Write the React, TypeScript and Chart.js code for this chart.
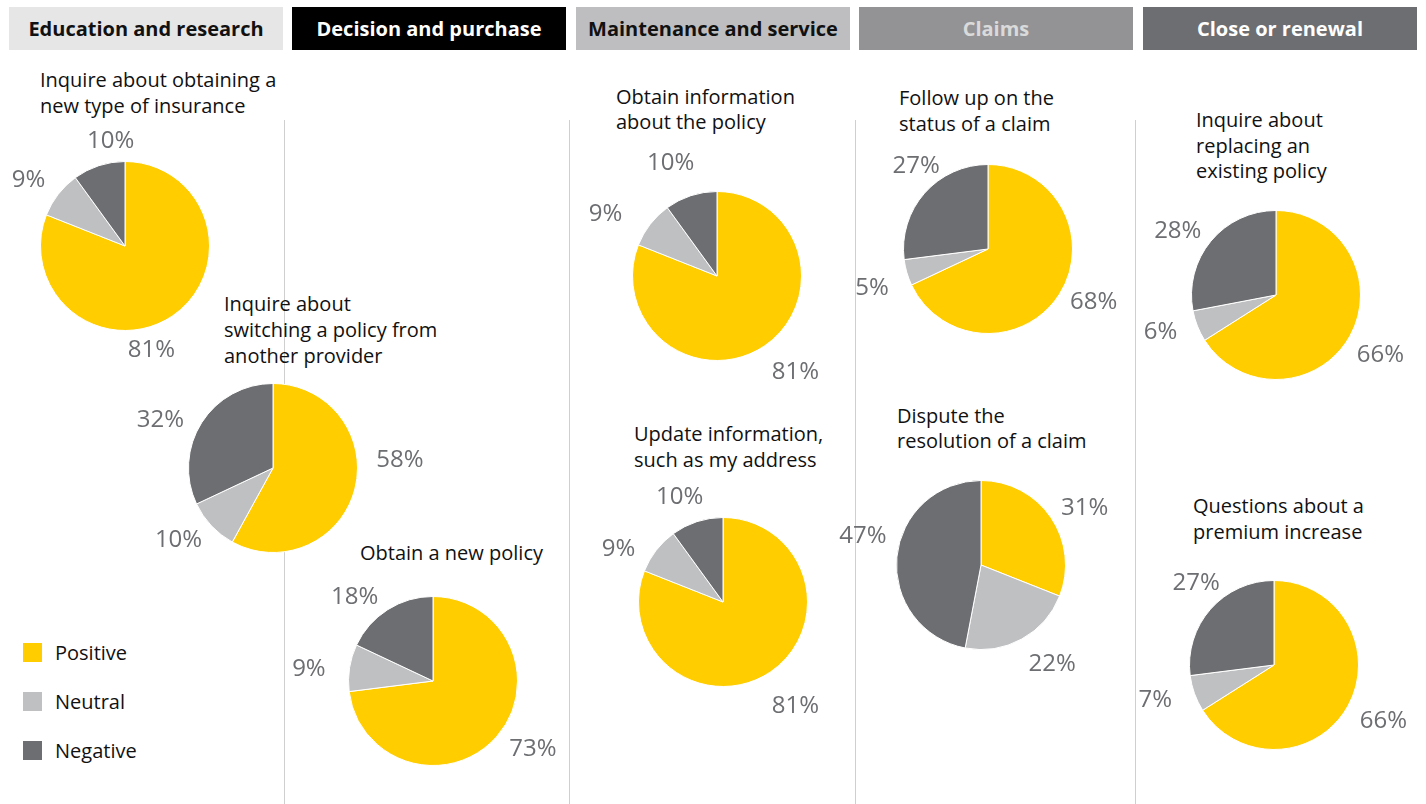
import React, { useEffect, useRef } from "react";
import { Chart, registerables } from "chart.js";

Chart.register(...registerables);

// ---- data ----
const sentiments = ["Positive", "Neutral", "Negative"];
const sentimentColors = ["#FFCD00", "#BFC0C2", "#6D6E71"];

const stages = [
  "Education and research",
  "Decision and purchase",
  "Maintenance and service",
  "Claims",
  "Close or renewal",
];

const interactions = [
  ["Inquire about obtaining a", "new type of insurance"],
  ["Inquire about", "switching a policy from", "another provider"],
  ["Obtain a new policy"],
  ["Obtain information", "about the policy"],
  ["Update information,", "such as my address"],
  ["Follow up on the", "status of a claim"],
  ["Dispute the", "resolution of a claim"],
  ["Inquire about", "replacing an", "existing policy"],
  ["Questions about a", "premium increase"],
];

const positive = [81, 58, 73, 81, 81, 68, 31, 66, 66];
const neutral = [9, 10, 9, 9, 9, 5, 22, 6, 7];
const negative = [10, 32, 18, 10, 10, 27, 47, 28, 27];

// ---- layout (positions / styles) ----
const stageStyles = [
  { bg: "#E6E6E7", fg: "#111111" },
  { bg: "#000000", fg: "#FFFFFF" },
  { bg: "#BEBEC0", fg: "#111111" },
  { bg: "#939396", fg: "#DADADA" },
  { bg: "#6D6E71", fg: "#FFFFFF" },
];
const stageLeft = [9, 292, 576, 859, 1143];
const separators = [284, 569, 855, 1135];

const RADIUS = 85;
const HALF = 160;
const pieLayout = [
  { cx: 125, cy: 246, tx: 40, ty: 67, lh: 26 },
  { cx: 273, cy: 468, tx: 224, ty: 291, lh: 26 },
  { cx: 433, cy: 681, tx: 360, ty: 540, lh: 26 },
  { cx: 717, cy: 276, tx: 616, ty: 84, lh: 25 },
  { cx: 723, cy: 602, tx: 634, ty: 421, lh: 26 },
  { cx: 988, cy: 249, tx: 899, ty: 85, lh: 26 },
  { cx: 981, cy: 565, tx: 897, ty: 403, lh: 25 },
  { cx: 1276, cy: 295, tx: 1196, ty: 107, lh: 25.5 },
  { cx: 1274, cy: 665, tx: 1193, ty: 493, lh: 26 },
];
const labelNudges = [
  [[-38, 9], [-6, 4], [21, 4]],
  [[16, -36], [-11, -6], [-16, 14]],
  [[14, -8], [-11, 6], [-17, 13]],
  [[14, 1], [-21, 8], [-11, -4]],
  [[8, 9], [-14, 17], [-8, 4]],
  [[9, -8], [-6, 7], [14, -7]],
  [[9, 8], [16, -1], [-4, -18]],
  [[4, 5], [-9, -5], [-10, 9]],
  [[9, 1], [-11, -4], [8, -6]],
];

const FONT = "'Open Sans', 'DejaVu Sans', sans-serif";

const pctLabels = {
  id: "pctLabels",
  afterDatasetsDraw(chart: any, _args: any, opts: any) {
    const ctx = chart.ctx;
    const meta = chart.getDatasetMeta(0);
    const data = chart.data.datasets[0].data;
    ctx.save();
    ctx.font = "24px " + FONT;
    ctx.fillStyle = "#6D6E71";
    ctx.textAlign = "center";
    ctx.textBaseline = "middle";
    meta.data.forEach((arc: any, i: number) => {
      const p = arc.getProps(["x", "y", "startAngle", "endAngle", "outerRadius"], true);
      const mid = (p.startAngle + p.endAngle) / 2;
      const d = p.outerRadius + 30;
      const n = (opts && opts.nudges && opts.nudges[i]) || [0, 0];
      ctx.fillText(
        data[i] + "%",
        p.x + Math.cos(mid) * d + n[0],
        p.y + Math.sin(mid) * d + n[1]
      );
    });
    ctx.restore();
  },
};

function Pie({ index }: { index: number }) {
  const ref = useRef<HTMLCanvasElement | null>(null);
  useEffect(() => {
    if (!ref.current) return;
    const chart = new Chart(ref.current, {
      type: "pie",
      data: {
        labels: sentiments,
        datasets: [
          {
            data: [positive[index], neutral[index], negative[index]],
            backgroundColor: sentimentColors,
            borderColor: "#FFFFFF",
            borderWidth: 1,
            hoverOffset: 0,
            offset: 0,
          },
        ],
      },
      options: {
        animation: false,
        responsive: false,
        events: [],
        layout: { padding: HALF - RADIUS },
        plugins: {
          legend: { display: false },
          tooltip: { enabled: false },
          // @ts-ignore
          pctLabels: { nudges: labelNudges[index] },
        },
      },
      plugins: [pctLabels as any],
    });
    return () => chart.destroy();
  }, [index]);
  const l = pieLayout[index];
  return (
    <canvas
      ref={ref}
      width={HALF * 2}
      height={HALF * 2}
      style={{
        position: "absolute",
        left: l.cx - HALF,
        top: l.cy - HALF,
        width: HALF * 2,
        height: HALF * 2,
      }}
    />
  );
}

export default function App() {
  return (
    <div
      style={{
        position: "fixed",
        left: 0,
        top: 0,
        width: 1426,
        height: 804,
        background: "#FFFFFF",
        overflow: "hidden",
        fontFamily: FONT,
      }}
    >
      {stages.map((s, i) => (
        <div
          key={s}
          style={{
            position: "absolute",
            left: stageLeft[i],
            top: 7,
            width: 274,
            height: 43,
            background: stageStyles[i].bg,
            color: stageStyles[i].fg,
            fontWeight: 700,
            fontSize: 20,
            display: "flex",
            alignItems: "center",
            justifyContent: "center",
          }}
        >
          {s}
        </div>
      ))}
      {separators.map((x) => (
        <div
          key={x}
          style={{
            position: "absolute",
            left: x,
            top: 120,
            width: 1,
            height: 684,
            background: "#CFCFCF",
          }}
        />
      ))}
      {interactions.map((lines, i) => (
        <div
          key={"t" + i}
          style={{
            position: "absolute",
            left: pieLayout[i].tx,
            top: pieLayout[i].ty,
            fontSize: 20,
            lineHeight: pieLayout[i].lh + "px",
            color: "#111111",
            whiteSpace: "nowrap",
          }}
        >
          {lines.map((t, j) => (
            <div key={j}>{t}</div>
          ))}
        </div>
      ))}
      {sentiments.map((s, i) => (
        <div
          key={s}
          style={{
            position: "absolute",
            left: 23,
            top: 642 + i * 49,
            height: 20,
            display: "flex",
            alignItems: "center",
            fontSize: 20,
            color: "#111111",
          }}
        >
          <span
            style={{
              display: "inline-block",
              width: 19,
              height: 19,
              background: sentimentColors[i],
              marginRight: 13,
            }}
          />
          {s}
        </div>
      ))}
      {interactions.map((_, i) => (
        <Pie key={"p" + i} index={i} />
      ))}
    </div>
  );
}
